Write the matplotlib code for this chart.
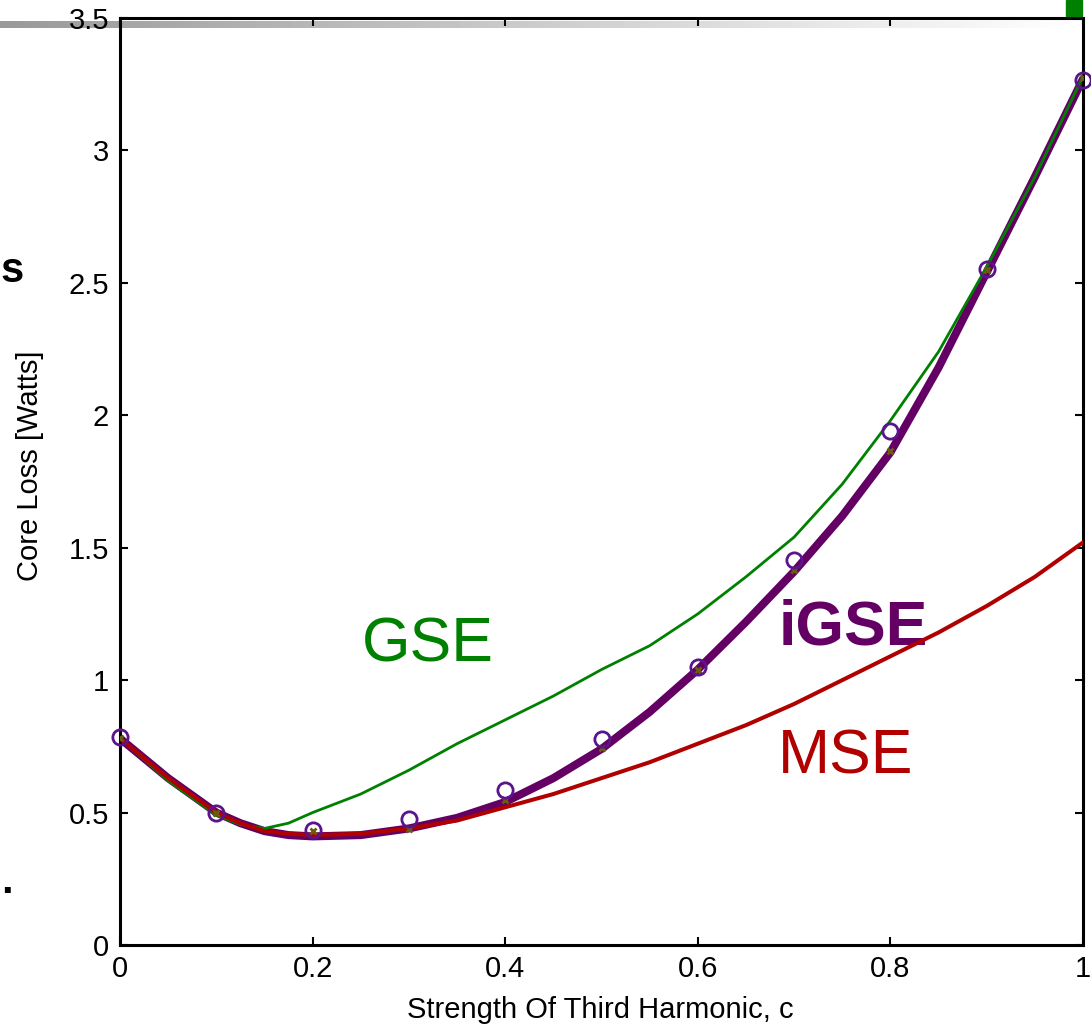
import numpy as np
import matplotlib
matplotlib.use("Agg")
import matplotlib.pyplot as plt

plt.rcParams['font.family'] = ['Liberation Sans', 'DejaVu Sans']

# Data
c_curve = [0.0, 0.05, 0.1, 0.125, 0.15, 0.175, 0.2, 0.25, 0.3, 0.35, 0.4, 0.45, 0.5,
           0.55, 0.6, 0.65, 0.7, 0.75, 0.8, 0.85, 0.9, 0.95, 1.0]
gse = [0.78, 0.62, 0.49, 0.455, 0.44, 0.46, 0.50, 0.57, 0.66, 0.76, 0.85, 0.94, 1.04,
       1.13, 1.25, 1.39, 1.54, 1.74, 1.98, 2.24, 2.56, 2.90, 3.28]
igse = [0.78, 0.63, 0.50, 0.46, 0.43, 0.415, 0.41, 0.415, 0.44, 0.48, 0.54, 0.63, 0.74,
        0.88, 1.04, 1.22, 1.41, 1.62, 1.86, 2.18, 2.54, 2.90, 3.27]
mse = [0.78, 0.63, 0.50, 0.46, 0.43, 0.42, 0.415, 0.42, 0.44, 0.47, 0.52, 0.57, 0.63,
       0.69, 0.76, 0.83, 0.91, 1.00, 1.09, 1.18, 1.28, 1.39, 1.52]

c_meas = [0.0, 0.1, 0.2, 0.3, 0.4, 0.5, 0.6, 0.7, 0.8, 0.9, 1.0]
measured = [0.785, 0.498, 0.434, 0.476, 0.585, 0.778, 1.049, 1.453, 1.940, 2.552, 3.265]
c_calc = [0.0, 0.1, 0.2, 0.3, 0.4, 0.5, 0.6, 0.7, 0.8, 0.9, 1.0]
calc = [0.78, 0.50, 0.43, 0.438, 0.547, 0.744, 1.04, 1.415, 1.865, 2.55, 3.275]

xticks = [0, 0.2, 0.4, 0.6, 0.8, 1]
xticklabels = ['0', '0.2', '0.4', '0.6', '0.8', '1']
yticks = [0, 0.5, 1, 1.5, 2, 2.5, 3, 3.5]
yticklabels = ['0', '0.5', '1', '1.5', '2', '2.5', '3', '3.5']

W, H = 1091, 1027
fig = plt.figure(figsize=(W / 100, H / 100), dpi=100)

# gray gradient band behind the top of the plot (crop artifact)
bg = fig.add_axes([0, 1 - 28 / H, 1080 / W, 7 / H], zorder=0)
grad = np.linspace(0.6, 1.0, 256).reshape(1, -1)
bg.imshow(grad, aspect='auto', cmap='gray', vmin=0, vmax=1)
bg.axis('off')

ax = fig.add_axes([120 / W, 1 - 945 / H, 963 / W, 927 / H], zorder=1)
ax.patch.set_visible(False)

ax.plot(c_curve, igse, color='#640064', lw=5.8, solid_capstyle='round',
        solid_joinstyle='round', zorder=2)
ax.plot(c_curve, gse, color='#008000', lw=2.0, zorder=3)
ax.plot(c_curve, mse, color='#b00000', lw=2.9, zorder=4)
ax.plot(c_calc, calc, linestyle='none', marker='x', ms=5, mew=2,
        color='#6b5a10', zorder=5)
ax.plot(c_meas, measured, linestyle='none', marker='o', ms=11, mew=2,
        mfc='none', mec='#5a148c', zorder=6, clip_on=False)

ax.text(0.32, 1.072, 'GSE', color='#008000', fontsize=45, ha='center', va='baseline')
ax.text(0.761, 1.133, 'iGSE', color='#640064', fontsize=45, fontweight='bold',
        ha='center', va='baseline')
ax.text(0.753, 0.646, 'MSE', color='#b00000', fontsize=45, ha='center', va='baseline')

ax.set_xlim(0, 1)
ax.set_ylim(0, 3.5)
ax.set_xticks(xticks)
ax.set_xticklabels(xticklabels)
ax.set_yticks(yticks)
ax.set_yticklabels(yticklabels)
ax.tick_params(direction='in', length=6, width=1.5, labelsize=21,
               top=True, right=True)
ax.tick_params(axis='x', pad=7)
ax.tick_params(axis='y', pad=8)
for s in ax.spines.values():
    s.set_linewidth(2.2)

fig.text(600 / W, 1 - 1010 / H, 'Strength Of Third Harmonic, c', fontsize=21,
         ha='center', va='center')
fig.text(30 / W, 1 - 466 / H, 'Core Loss [Watts]', fontsize=21, rotation=90,
         ha='center', va='center')

# leftovers at the edges of the picture
fig.patches.append(plt.Rectangle((1066 / W, 1 - 16 / H), 16 / W, 16 / H,
                                 transform=fig.transFigure, color='#008000'))
fig.text(1 / W, 1 - 282 / H, 's', fontsize=30, fontweight='bold', ha='left', va='baseline')
fig.text(1 / W, 1 - 893 / H, '.', fontsize=30, fontweight='bold', ha='left', va='baseline')

fig.savefig('out.png', dpi=100)
